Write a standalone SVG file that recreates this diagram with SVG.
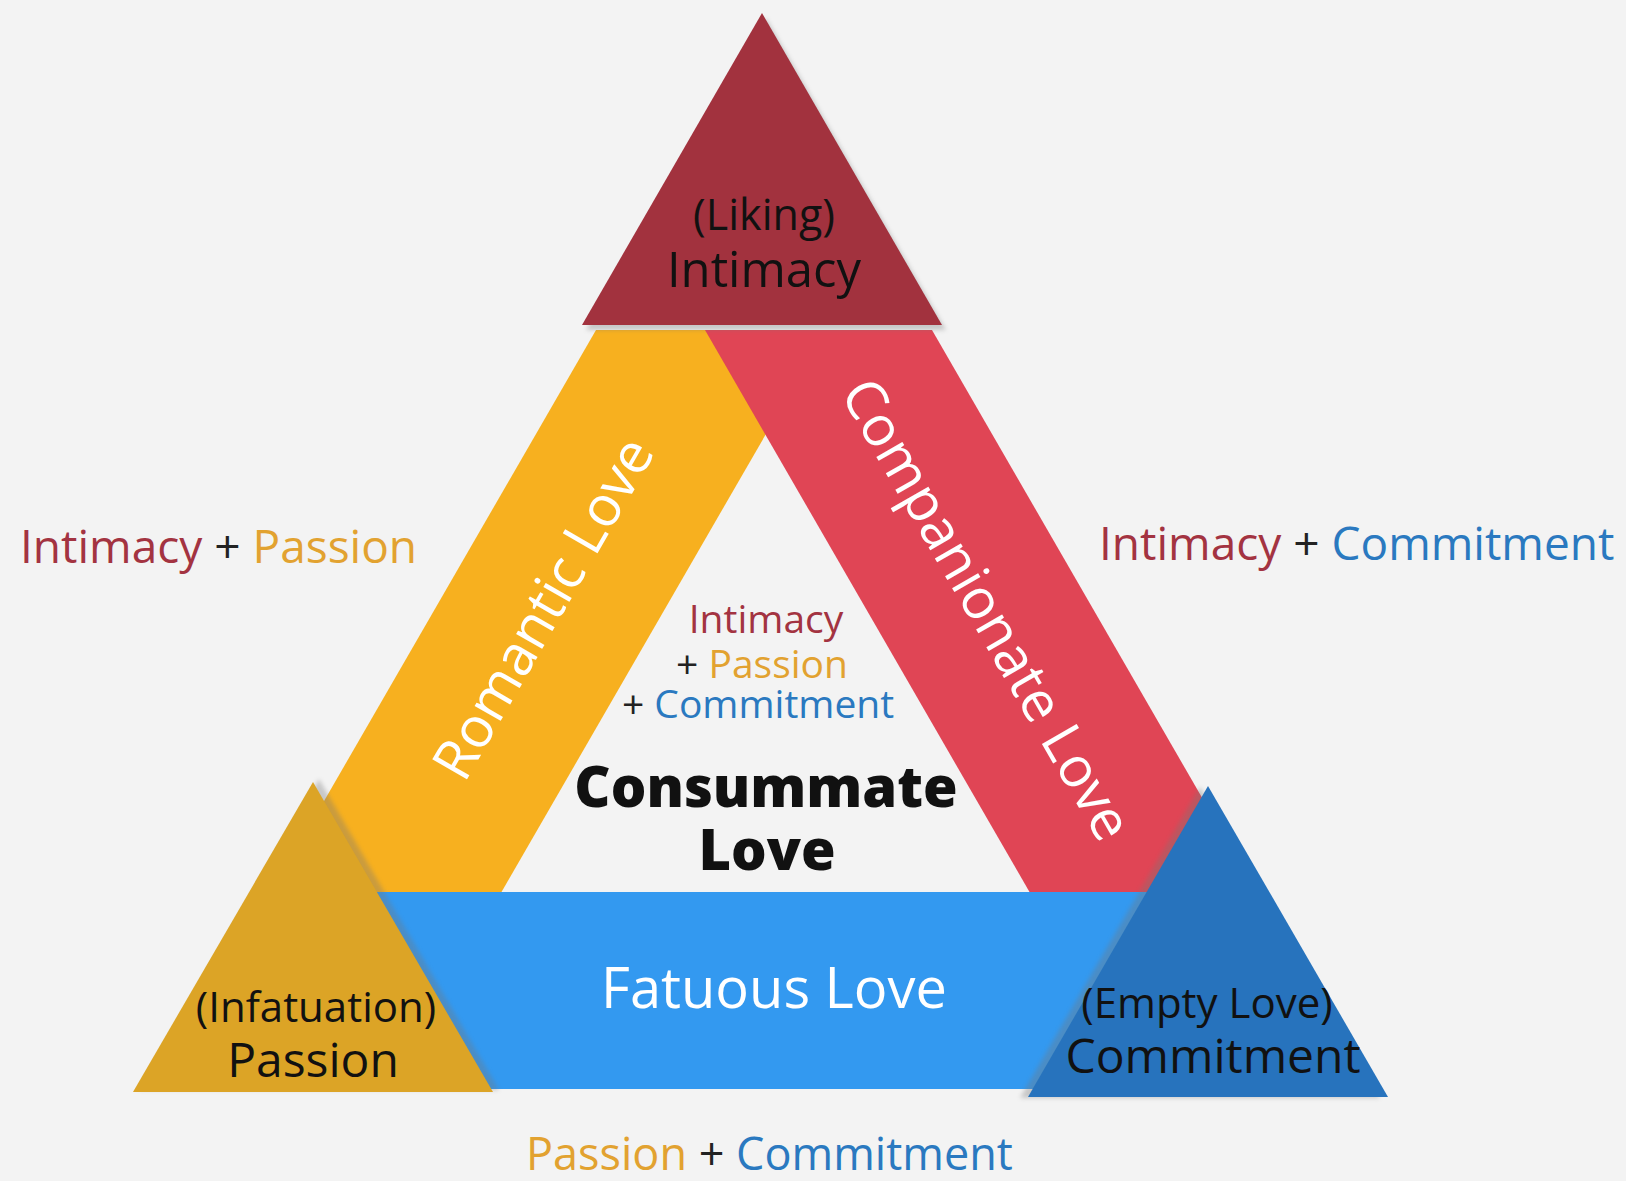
<svg xmlns="http://www.w3.org/2000/svg" width="1626" height="1181" viewBox="0 0 1626 1181">
<defs>
<style>
text{font-family:"Open Sans","Noto Sans","DejaVu Sans",sans-serif;}
.c{text-anchor:middle;}
.dk{fill:#111;}
.wh{fill:#ffffff;}
.int{fill:#a33341;}
.pas{fill:#e2a230;}
.com{fill:#2a79c0;}
.plus{fill:#222;}
.sh{fill:#777;opacity:0.35;filter:url(#blur);}
</style>
<filter id="blur" x="-10%" y="-10%" width="120%" height="120%"><feGaussianBlur stdDeviation="2"/></filter>
</defs>
<rect width="1626" height="1181" fill="#f3f3f3"/>

<g id="connectors">
  <g id="romantic-love">
    <polygon points="596,330 826,330 501.5,892 271.5,892" fill="#f7b01f"/>
    <text class="c wh" font-size="56" transform="translate(560,618) rotate(-60)">Romantic Love</text>
  </g>
  <g id="companionate-love">
    <polygon points="705,330 932,330 1256.5,892 1029.5,892" fill="#e04555"/>
    <text class="c wh" font-size="56" transform="translate(970,619) rotate(60)">Companionate Love</text>
  </g>
  <g id="fatuous-love">
    <rect x="360" y="892" width="800" height="197" fill="#3399f0"/>
    <text class="c wh" x="774" y="1008" font-size="56">Fatuous Love</text>
  </g>
</g>

<g id="intimacy">
  <polygon class="sh" points="766,18 946,330 586,330"/>
  <polygon points="762,13 942,325 582,325" fill="#a2323e"/>
  <text class="c dk" x="764" y="230" font-size="43">(Liking)</text>
  <text class="c dk" x="764" y="287" font-size="49">Intimacy</text>
</g>

<g id="passion">
  <polygon class="sh" points="319,779 499,1090 139,1090"/>
  <polygon points="313,782 493,1092 133,1092" fill="#dca426"/>
  <text class="c dk" x="316" y="1022" font-size="42">(Infatuation)</text>
  <text class="c dk" x="313" y="1077" font-size="48">Passion</text>
</g>

<g id="commitment">
  <polygon class="sh" points="1200,787 1380,1098 1020,1098"/>
  <polygon points="1208,786 1388,1097 1028,1097" fill="#2773bd"/>
  <text class="c dk" x="1207" y="1018" font-size="42">(Empty Love)</text>
  <text class="c dk" x="1213" y="1073" font-size="48">Commitment</text>
</g>

<g id="consummate-love">
  <text class="c" x="766" y="633" font-size="39"><tspan class="int">Intimacy</tspan></text>
  <text class="c" x="762" y="678" font-size="39"><tspan class="plus">+ </tspan><tspan class="pas">Passion</tspan></text>
  <text class="c" x="758" y="718" font-size="39"><tspan class="plus">+ </tspan><tspan class="com">Commitment</tspan></text>
  <text class="c dk" x="766" y="807" font-size="56" font-weight="800">Consummate</text>
  <text class="c dk" x="767" y="870" font-size="56" font-weight="800">Love</text>
</g>

<g id="label-intimacy-passion">
  <text x="20" y="563" font-size="46"><tspan class="int">Intimacy</tspan><tspan class="plus"> + </tspan><tspan class="pas">Passion</tspan></text>
</g>
<g id="label-intimacy-commitment">
  <text x="1099" y="560" font-size="46"><tspan class="int">Intimacy</tspan><tspan class="plus"> + </tspan><tspan class="com">Commitment</tspan></text>
</g>
<g id="label-passion-commitment">
  <text x="526" y="1170" font-size="45"><tspan class="pas">Passion</tspan><tspan class="plus"> + </tspan><tspan class="com">Commitment</tspan></text>
</g>
</svg>
